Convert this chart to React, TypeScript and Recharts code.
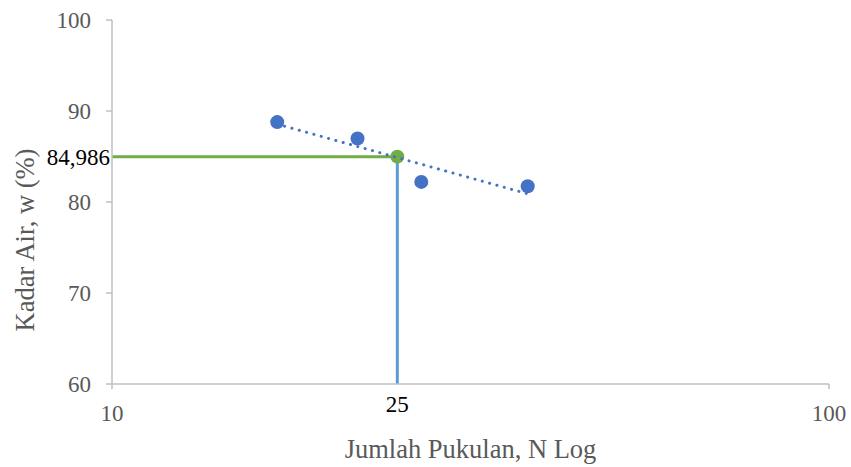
import React from 'react';
import {
  ScatterChart,
  Scatter,
  XAxis,
  YAxis,
  ReferenceLine,
} from 'recharts';

// Blow counts (N) and water content (%) from the liquid limit test
const blows = [17, 22, 27, 38];
const waterContent = [88.78, 86.98, 82.21, 81.73];

// Liquid limit read at 25 blows
const LL_BLOWS = 25;
const LL_VALUE = 84.986;

const xTicks = [10, LL_BLOWS, 100];
const yTicks = [60, 70, 80, LL_VALUE, 90, 100];

const FONT = '"Liberation Serif", "Times New Roman", serif';
const TEXT_GREY = '#595959';
const AXIS_GREY = '#bfbfbf';
const BLUE = '#4472c4';
const GREEN = '#70ad47';
const LIGHT_BLUE = '#5b9bd5';
const TICK_FONT = 23;
const TITLE_FONT = 26.5;

const points = blows.map((n, i) => ({ n, w: waterContent[i] }));

// logarithmic trendline: w = a + b * log10(N), least squares
const logs = blows.map((n) => Math.log10(n));
const mx = logs.reduce((s, v) => s + v, 0) / logs.length;
const my = waterContent.reduce((s, v) => s + v, 0) / waterContent.length;
const sxy = logs.reduce((s, v, i) => s + (v - mx) * (waterContent[i] - my), 0);
const sxx = logs.reduce((s, v) => s + (v - mx) * (v - mx), 0);
const slope = sxy / sxx;
const intercept = my - slope * mx;
const trend = [blows[0], blows[blows.length - 1]].map((n) => ({
  n,
  w: intercept + slope * Math.log10(n),
}));

const llPoint = [{ n: LL_BLOWS, w: LL_VALUE }];

const XTick = (props: any) => {
  const { x, y, payload } = props;
  if (payload.value === LL_BLOWS) {
    return (
      <text x={x} y={y + 15} dy="0.35em" textAnchor="middle" fontFamily={FONT} fontSize={TICK_FONT} fill="#000">
        {payload.value}
      </text>
    );
  }
  return (
    <g>
      <line x1={x} x2={x} y1={y - 5} y2={y} stroke={AXIS_GREY} strokeWidth={1.5} />
      <text x={x} y={y + 24} dy="0.35em" textAnchor="middle" fontFamily={FONT} fontSize={TICK_FONT} fill={TEXT_GREY}>
        {payload.value}
      </text>
    </g>
  );
};

const YTick = (props: any) => {
  const { x, y, payload } = props;
  if (payload.value === LL_VALUE) {
    return (
      <text x={x + 4} y={y} dy="0.35em" textAnchor="end" fontFamily={FONT} fontSize={TICK_FONT} fill="#000">
        {payload.value.toFixed(3).replace('.', ',')}
      </text>
    );
  }
  return (
    <g>
      <line x1={x} x2={x + 6} y1={y} y2={y} stroke={AXIS_GREY} strokeWidth={1.5} />
      <text x={x - 15} y={y} dy="0.35em" textAnchor="end" fontFamily={FONT} fontSize={TICK_FONT} fill={TEXT_GREY}>
        {payload.value}
      </text>
    </g>
  );
};

const XTitle = (props: any) => {
  const vb = props.viewBox;
  return (
    <text x={vb.x + vb.width / 2} y={vb.y + 65} dy="0.35em" textAnchor="middle" fontFamily={FONT} fontSize={TITLE_FONT} fill={TEXT_GREY}>
      Jumlah Pukulan, N Log
    </text>
  );
};

const YTitle = (props: any) => {
  const vb = props.viewBox;
  const cx = vb.x + 25;
  const cy = vb.y + 220;
  return (
    <text x={cx} y={cy} dy="0.35em" textAnchor="middle" transform={`rotate(-90, ${cx}, ${cy})`} fontFamily={FONT} fontSize={TITLE_FONT} fill={TEXT_GREY}>
      Kadar Air, w (%)
    </text>
  );
};

const Dot = (r: number, fill: string) => (props: any) => (
  <circle cx={props.cx} cy={props.cy} r={r} fill={fill} />
);

export default function App() {
  return (
    <div style={{ position: 'absolute', left: 0, top: 0, background: '#fff' }}>
      <ScatterChart width={851} height={467} margin={{ top: 20, right: 22, bottom: 0, left: 0 }}>
        <XAxis
          type="number"
          dataKey="n"
          scale="log"
          domain={[10, 100]}
          ticks={xTicks}
          allowDataOverflow
          height={83}
          stroke={AXIS_GREY}
          strokeWidth={1.5}
          tickLine={false}
          tickSize={5}
          tickMargin={0}
          tick={<XTick />}
          interval={0}
          label={{ content: <XTitle /> }}
        />
        <YAxis
          type="number"
          dataKey="w"
          domain={[60, 100]}
          ticks={yTicks}
          allowDataOverflow
          width={112}
          stroke={AXIS_GREY}
          strokeWidth={1.5}
          tickLine={false}
          tickSize={6}
          tickMargin={0}
          tick={<YTick />}
          interval={0}
          label={{ content: <YTitle /> }}
        />
        <ReferenceLine
          segment={[{ x: 10, y: LL_VALUE }, { x: LL_BLOWS, y: LL_VALUE }]}
          stroke={GREEN}
          strokeWidth={3}
        />
        <ReferenceLine
          segment={[{ x: LL_BLOWS, y: LL_VALUE }, { x: LL_BLOWS, y: 60 }]}
          stroke={LIGHT_BLUE}
          strokeWidth={3}
        />
        <Scatter data={points} shape={Dot(7, BLUE)} isAnimationActive={false} />
        <Scatter data={llPoint} shape={Dot(7, GREEN)} isAnimationActive={false} />
        <Scatter
          data={trend}
          line={{ stroke: BLUE, strokeWidth: 3, strokeDasharray: '0.1 7.5', strokeLinecap: 'round' }}
          shape={() => null}
          isAnimationActive={false}
        />
      </ScatterChart>
    </div>
  );
}
